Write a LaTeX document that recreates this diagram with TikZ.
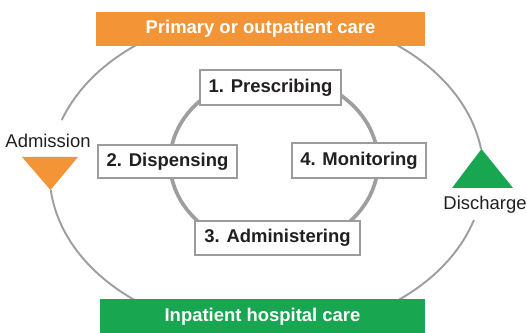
\documentclass[tikz,border=0pt]{standalone}
\usepackage{fontspec}
\setmainfont{Liberation Sans}
\usepackage{tikz}
\usetikzlibrary{positioning}

\definecolor{careorange}{RGB}{243,149,54}
\definecolor{caregreen}{RGB}{24,166,80}
\definecolor{ringgray}{RGB}{158,158,158}
\definecolor{boxgray}{RGB}{155,155,155}
\definecolor{inktext}{RGB}{35,31,32}

\begin{document}
\begin{tikzpicture}[
      x=0.02cm, y=-0.02cm,
      font=\fontsize{10.5}{12}\selectfont,
      stagebox/.style={draw=boxgray, line width=0.6pt, fill=white, text=inktext,
        font=\fontsize{10.5}{12}\selectfont\bfseries, inner sep=0pt},
      carebar/.style={text=white, font=\fontsize{10.5}{12}\selectfont\bfseries,
        inner sep=0pt, minimum height=0.68cm},
      sidelabel/.style={text=inktext, inner sep=1pt},
      outerring/.style={draw=ringgray, line width=1.1pt},
      innerring/.style={draw=ringgray, line width=2.1pt}
    ]
    \useasboundingbox (0,0) rectangle (527,333);

    % outer care loop, open at admission and discharge
    \draw[outerring] plot[domain=17.1:173.9, samples=90]
      ({266.5+217*cos(\x)}, {173+160*sin(\x)});
    \draw[outerring] plot[domain=199.3:351.4, samples=90]
      ({266.5+217*cos(\x)}, {173+160*sin(\x)});

    % inner medication cycle
    \draw[innerring] (274,162) ellipse [x radius=2.08cm, y radius=1.74cm];

    \node[carebar, fill=careorange, minimum width=6.58cm] (primary) at (260.5,29)
      {Primary or outpatient care};
    \node[carebar, fill=caregreen, minimum width=6.5cm] (inpatient) at (262.5,316.5)
      {Inpatient hospital care};

    \node[stagebox, minimum width=2.82cm, minimum height=0.7cm] (prescribe) at (270.5,87.5)
      {1. Prescribing};
    \node[stagebox, minimum width=2.78cm, minimum height=0.66cm] (dispense) at (167.5,161.5)
      {2. Dispensing};
    \node[stagebox, minimum width=3.3cm, minimum height=0.68cm] (administer) at (277.5,238)
      {3. Administering};
    \node[stagebox, minimum width=2.68cm, minimum height=0.7cm] (monitor) at (359,160.5)
      {4. Monitoring};

    \node[sidelabel] (admission) at (48,141) {Admission};
    \node[sidelabel] (discharge) at (485,205) {Discharge};

    % transfer markers
    \fill[careorange] (22,157) -- (78,157) -- (50.5,190) -- cycle;
    \fill[caregreen] (452,188) -- (513,188) -- (481.5,149) -- cycle;
  \end{tikzpicture}
\end{document}
